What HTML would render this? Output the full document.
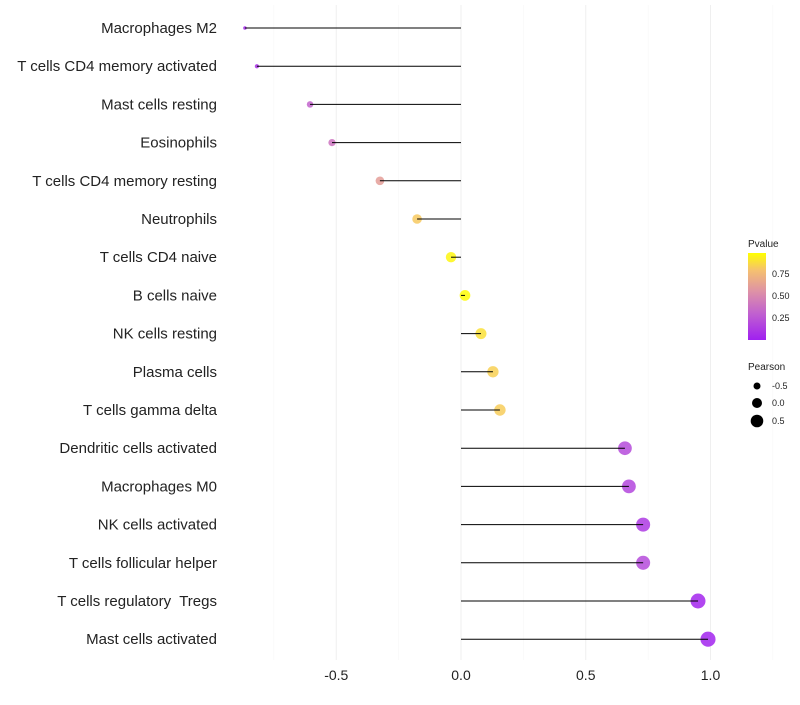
<!DOCTYPE html>
<html><head><meta charset="utf-8"><style>
body{margin:0;background:#fff;font-family:"Liberation Sans",sans-serif}
text{white-space:pre}
</style></head><body>
<svg id="chart" width="800" height="700" xmlns="http://www.w3.org/2000/svg">
<defs><linearGradient id="pg" x1="0" y1="1" x2="0" y2="0">
<stop offset="0" stop-color="#a020f0"/><stop offset="0.3" stop-color="#c060d0"/><stop offset="0.55" stop-color="#dd90a8"/><stop offset="0.8" stop-color="#f5c070"/><stop offset="1" stop-color="#ffff00"/></linearGradient></defs>
<g id="grid"></g><g id="marks"></g><g id="labels"></g>
<g font-size="9" fill="#222">
<text x="748" y="247" font-size="10">Pvalue</text>
<rect x="748" y="253" width="18" height="87" fill="url(#pg)"/>
<text x="772" y="277">0.75</text><text x="772" y="299">0.50</text><text x="772" y="321">0.25</text>
</g>
<g font-size="9" fill="#222">
<text x="748" y="370" font-size="10">Pearson</text>
<circle cx="757" cy="386" r="3.5" fill="#000"/><text x="772" y="389">-0.5</text>
<circle cx="757" cy="403" r="5" fill="#000"/><text x="772" y="406">0.0</text>
<circle cx="757" cy="421" r="6.3" fill="#000"/><text x="772" y="424">0.5</text>
</g>
</svg>
<script>
const categories=["Macrophages M2","T cells CD4 memory activated","Mast cells resting","Eosinophils","T cells CD4 memory resting","Neutrophils","T cells CD4 naive","B cells naive","NK cells resting","Plasma cells","T cells gamma delta","Dendritic cells activated","Macrophages M0","NK cells activated","T cells follicular helper","T cells regulatory  Tregs","Mast cells activated"];
const pearson=[-0.866,-0.818,-0.605,-0.517,-0.325,-0.176,-0.04,0.016,0.08,0.128,0.156,0.657,0.673,0.73,0.73,0.95,0.99];
const pvalue=[0.04,0.08,0.32,0.4,0.62,0.83,0.97,0.99,0.9,0.85,0.84,0.2,0.18,0.12,0.2,0.03,0.02];
const xTicks=[-0.5,0,0.5,1];
const xTickLabels=["-0.5","0.0","0.5","1.0"];
const NS="http://www.w3.org/2000/svg";
const x=v=>461+v*249.5;
const y=i=>28+i*38.2;
const r=v=>Math.sqrt(Math.max(3,3+29*(v+0.87)));
function col(p){const st=[[0,[160,32,240]],[0.3,[192,96,208]],[0.55,[221,144,168]],[0.8,[245,192,112]],[1,[255,255,0]]];
for(let k=1;k<st.length;k++){if(p<=st[k][0]){const a=st[k-1],b=st[k],t=(p-a[0])/(b[0]-a[0]);return "rgb("+a[1].map((c,j)=>Math.round(c+(b[1][j]-c)*t)).join(",")+")";}}return "rgb(255,255,0)";}
function mk(t,at,p){const e=document.createElementNS(NS,t);for(const k in at)e.setAttribute(k,at[k]);p.appendChild(e);return e;}
const G=document.getElementById('grid'),M=document.getElementById('marks'),L=document.getElementById('labels');
[-0.75,-0.25,0.25,0.75,1.25].forEach(v=>{const l=mk('line',{x1:x(v),x2:x(v),y1:5,y2:660,stroke:'#f6f6f6','stroke-width':0.6},G);

});
xTicks.forEach((v,i)=>{const l=mk('line',{x1:x(v),x2:x(v),y1:5,y2:660,stroke:'#efefef','stroke-width':1},G);


const t=mk('text',{x:x(v),y:680,'text-anchor':'middle','font-size':14,fill:'#222'},L);t.textContent=xTickLabels[i];

});
categories.forEach((c,i)=>{
const ci=mk('circle',{cx:x(pearson[i]),cy:y(i),r:r(pearson[i]),fill:col(pvalue[i]),'fill-opacity':0.85},M);


const ln=mk('line',{x1:x(0),x2:x(pearson[i]),y1:y(i),y2:y(i),stroke:'#000','stroke-width':1},M);


const t=mk('text',{x:217,y:y(i)+5,'text-anchor':'end','font-size':15,fill:'#222'},L);t.textContent=c;

});
</script>
</body></html>
